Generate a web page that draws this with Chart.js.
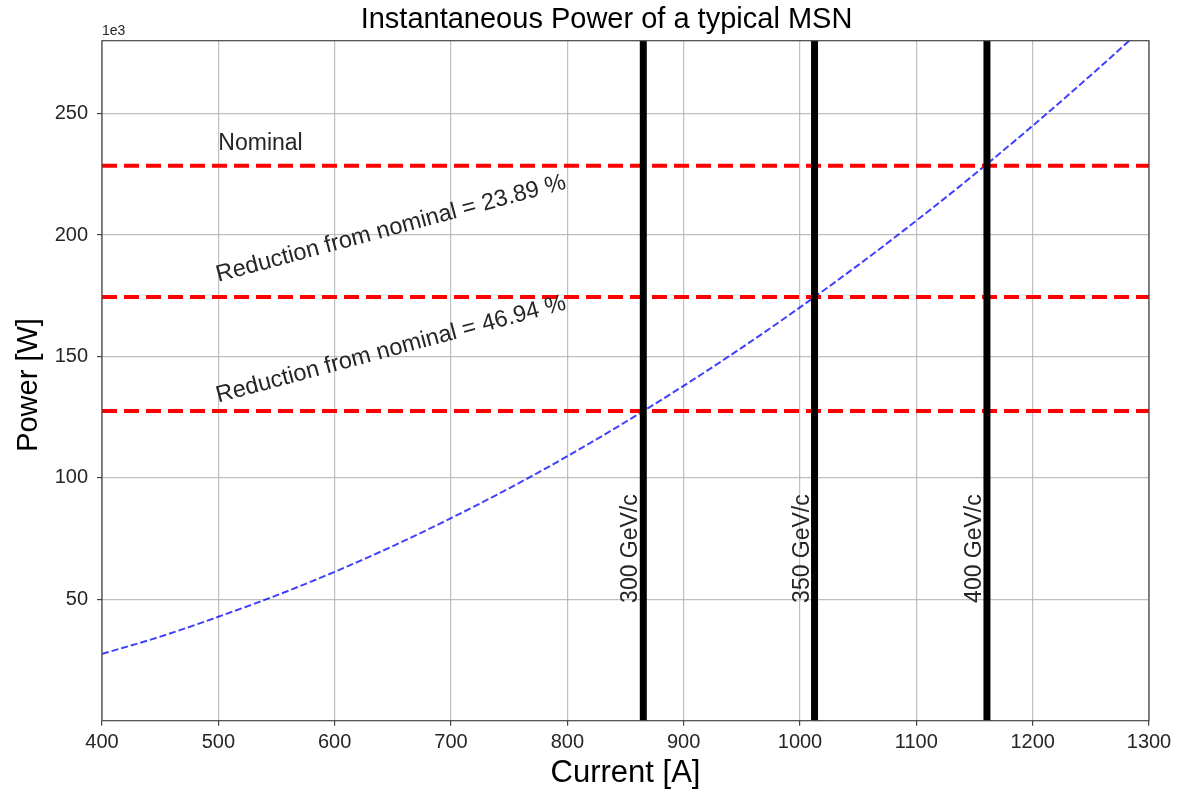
<!DOCTYPE html>
<html>
<head>
<meta charset="utf-8">
<script src="https://cdn.jsdelivr.net/npm/chart.js@4/dist/chart.umd.min.js"></script>
<style>
  html, body { margin: 0; padding: 0; background: #fff; }
  #wrap { width: 1178px; height: 793px; }
</style>
</head>
<body>
<div id="wrap"><canvas id="c" width="1178" height="793"></canvas></div>
<script>
// current [A] and power [kW]
const current = [400, 450, 500, 550, 600, 650, 700, 750, 800, 850, 900, 950, 1000, 1050, 1100, 1150, 1200, 1250, 1300];
const power = [27.5, 34.6, 42.8, 51.6, 61.3, 71.9, 83.4, 95.7, 108.9, 123.0, 137.9, 153.6, 170.2, 187.6, 205.9, 225.0, 245.0, 265.8, 287.4];

// horizontal levels [kW]: nominal, -23.89 %, -46.94 %
const levels = [228.5, 174.5, 127.5];
const levelLabels = ['Nominal', 'Reduction from nominal = 23.89 %', 'Reduction from nominal = 46.94 %'];

// currents for the beam energies
const energyCurrents = [865.3, 1012.5, 1160.7];
const energyLabels = ['300 GeV/c', '350 GeV/c', '400 GeV/c'];

const xTicks = [400, 500, 600, 700, 800, 900, 1000, 1100, 1200, 1300];
const yTicks = [50, 100, 150, 200, 250];

const xMin = 400, xMax = 1300, yMin = 0, yMax = 280;
const FONT = "'Liberation Sans', Arial, sans-serif";

const datasets = [];
energyCurrents.forEach(function (x) {
    datasets.push({
        data: [{x: x, y: yMin}, {x: x, y: yMax}],
        borderColor: '#000',
        borderWidth: 7,
        pointRadius: 0
    });
});
levels.forEach(function (y) {
    datasets.push({
        data: [{x: xMin, y: y}, {x: xMax, y: y}],
        borderColor: '#ff0000',
        borderWidth: 4,
        borderDash: [15, 7],
        pointRadius: 0
    });
});
datasets.push({
    data: current.map(function (c, i) { return {x: c, y: power[i]}; }),
    borderColor: 'rgba(0,0,255,0.75)',
    borderWidth: 2,
    borderDash: [7, 3],
    pointRadius: 0,
    cubicInterpolationMode: 'monotone'
});

const annotations = {
    id: 'annotations',
    afterDraw: function (chart) {
        const ctx = chart.ctx;
        const xs = chart.scales.x, ys = chart.scales.y;
        const area = chart.chartArea;
        ctx.save();

        // frame
        ctx.strokeStyle = '#444';
        ctx.lineWidth = 1.2;
        ctx.strokeRect(area.left, area.top, area.right - area.left, area.bottom - area.top);

        ctx.fillStyle = '#262626';
        ctx.textBaseline = 'alphabetic';
        ctx.textAlign = 'left';

        // level labels
        const labelX = 500;
        const offsets = [6.5, 6.2, 3.5];
        levelLabels.forEach(function (t, i) {
            const px = xs.getPixelForValue(labelX);
            const py = ys.getPixelForValue(levels[i] + offsets[i]);
            ctx.save();
            ctx.translate(px, py);
            if (i > 0) {
                ctx.rotate(-15 * Math.PI / 180);
                ctx.font = '23.5px ' + FONT;
            } else {
                ctx.font = '23px ' + FONT;
            }
            ctx.fillText(t, 0, 0);
            ctx.restore();
        });

        // energy labels
        ctx.font = '23px ' + FONT;
        energyLabels.forEach(function (t, i) {
            const px = xs.getPixelForValue(energyCurrents[i]) - 6;
            const py = ys.getPixelForValue(48.5);
            ctx.save();
            ctx.translate(px, py);
            ctx.rotate(-Math.PI / 2);
            ctx.fillText(t, 0, 0);
            ctx.restore();
        });

        // offset text
        ctx.font = '14px ' + FONT;
        ctx.fillText('1e3', area.left, 35);

        // title and axis titles
        ctx.fillStyle = '#000';
        ctx.textAlign = 'center';
        ctx.font = '29px ' + FONT;
        ctx.fillText('Instantaneous Power of a typical MSN', 606.5, 28);
        ctx.font = '31px ' + FONT;
        ctx.fillText('Current [A]', (area.left + area.right) / 2, 782);
        ctx.save();
        ctx.translate(37, 385);
        ctx.rotate(-Math.PI / 2);
        ctx.font = '29px ' + FONT;
        ctx.fillText('Power [W]', 0, 0);
        ctx.restore();

        ctx.restore();
    }
};

new Chart(document.getElementById('c'), {
    type: 'line',
    data: { datasets: datasets },
    options: {
        responsive: false,
        animation: false,
        layout: { padding: { left: 0, right: 29, top: 40.7, bottom: 0 } },
        plugins: {
            legend: { display: false },
            tooltip: { enabled: false },
            title: { display: false }
        },
        scales: {
            x: {
                type: 'linear',
                min: xMin,
                max: xMax,
                afterBuildTicks: function (s) { s.ticks = xTicks.map(function (v) { return {value: v}; }); },
                afterFit: function (s) { s.height = 72.3; },
                ticks: {
                    color: '#262626',
                    font: { family: FONT, size: 20 },
                    padding: 5,
                    maxRotation: 0,
                    callback: function (v) { return String(v); }
                },
                grid: { color: 'rgba(176,176,176,0.8)', lineWidth: 1.2, tickLength: 5, tickColor: '#444' },
                border: { display: false }
            },
            y: {
                type: 'linear',
                min: yMin,
                max: yMax,
                afterBuildTicks: function (s) { s.ticks = yTicks.map(function (v) { return {value: v}; }); },
                afterFit: function (s) { s.width = 102; },
                ticks: {
                    color: '#262626',
                    font: { family: FONT, size: 20 },
                    padding: 9,
                    callback: function (v) { return String(v); }
                },
                grid: { color: 'rgba(176,176,176,0.8)', lineWidth: 1.2, tickLength: 5, tickColor: '#444' },
                border: { display: false }
            }
        }
    },
    plugins: [annotations]
});
</script>
</body>
</html>
